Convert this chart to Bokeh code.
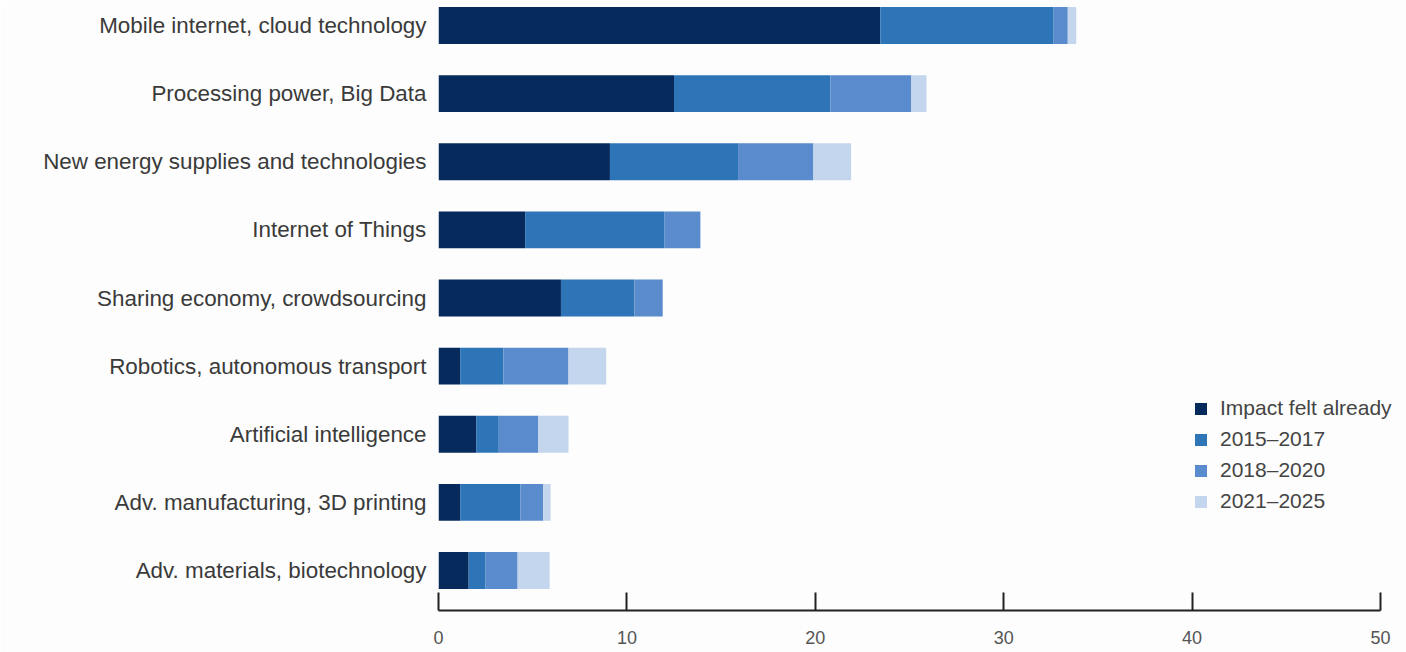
from bokeh.plotting import figure
from bokeh.models import ColumnDataSource, FixedTicker, Range1d, Legend
from bokeh.embed import file_html
from bokeh.resources import INLINE

# Technologies, top to bottom
categories = [
    "Mobile internet, cloud technology",
    "Processing power, Big Data",
    "New energy supplies and technologies",
    "Internet of Things",
    "Sharing economy, crowdsourcing",
    "Robotics, autonomous transport",
    "Artificial intelligence",
    "Adv. manufacturing, 3D printing",
    "Adv. materials, biotechnology",
]

# Share of respondents by expected time to impact (%)
impact_felt_already = [23.45, 12.5, 9.1, 4.6, 6.5, 1.15, 2.0, 1.15, 1.6]
y2015_2017 = [9.2, 8.3, 6.8, 7.4, 3.9, 2.3, 1.2, 3.2, 0.9]
y2018_2020 = [0.75, 4.3, 4.0, 1.9, 1.5, 3.45, 2.1, 1.2, 1.7]
y2021_2025 = [0.45, 0.8, 2.0, 0.0, 0.0, 2.0, 1.6, 0.4, 1.7]

series_names = ["Impact felt already", "2015\u20132017", "2018\u20132020", "2021\u20132025"]
series_keys = ["felt", "s1517", "s1820", "s2125"]
series_colors = ["#062a5c", "#2e75b8", "#5a8bcc", "#c3d6ed"]

x_ticks = [0, 10, 20, 30, 40, 50]
x_max = 50

n = len(categories)
ypos = [n - 1 - i for i in range(n)]

source = ColumnDataSource(dict(
    y=ypos,
    felt=impact_felt_already,
    s1517=y2015_2017,
    s1820=y2018_2020,
    s2125=y2021_2025,
))

FONT = "Liberation Sans"

# the frame runs to the right edge so the legend has room;
# the value axis itself stops at x_max
left_px, axis_end_px, width_px = 438, 1380, 1406
x_end = x_max * (width_px - left_px) / (axis_end_px - left_px)

p = figure(
    width=width_px, height=652,
    output_backend="svg", toolbar_location=None,
    x_range=Range1d(0, x_end),
    y_range=Range1d(-0.587, 8.367),
    min_border_left=left_px, min_border_right=0,
    min_border_top=0, min_border_bottom=42,
    background_fill_color="#fcfdfc", border_fill_color="#fcfdfc",
    outline_line_color=None,
)

renderers = p.hbar_stack(
    series_keys, y="y", height=0.54, color=series_colors,
    line_color=None, source=source,
)

legend = Legend(
    items=[(name, [r]) for name, r in zip(series_names, renderers)],
    location=(755, 97),
    border_line_color=None, background_fill_alpha=0,
    padding=0, margin=0, spacing=7,
    glyph_width=15, glyph_height=15, label_height=24,
    label_standoff=12,
    label_text_font=FONT, label_text_font_size="21px", label_text_color="#444444",
)
p.add_layout(legend)

p.xgrid.visible = False
p.ygrid.visible = False

# bottom value axis, ticks pointing up into the plot
xa = p.xaxis[0]
xa.ticker = FixedTicker(ticks=x_ticks)
xa.bounds = (0, x_max)
xa.major_tick_in = 18
xa.major_tick_out = 0
xa.minor_tick_line_color = None
xa.axis_line_width = 2
xa.axis_line_color = "#222222"
xa.major_tick_line_width = 2
xa.major_tick_line_color = "#222222"
xa.major_label_standoff = 20
xa.major_label_text_font = "Liberation Sans Narrow, " + FONT
xa.major_label_text_font_size = "18px"
xa.major_label_text_color = "#555555"

# category labels on the left
ya = p.yaxis[0]
ya.ticker = FixedTicker(ticks=ypos)
ya.major_label_overrides = {yv: c for yv, c in zip(ypos, categories)}
ya.axis_line_color = None
ya.major_tick_line_color = None
ya.major_tick_out = 0
ya.major_tick_in = 0
ya.minor_tick_line_color = None
ya.major_label_standoff = 12
ya.major_label_text_font = FONT
ya.major_label_text_font_size = "22.4px"
ya.major_label_text_color = "#3a3a3a"

open("out.html", "w").write(file_html(p, INLINE))
